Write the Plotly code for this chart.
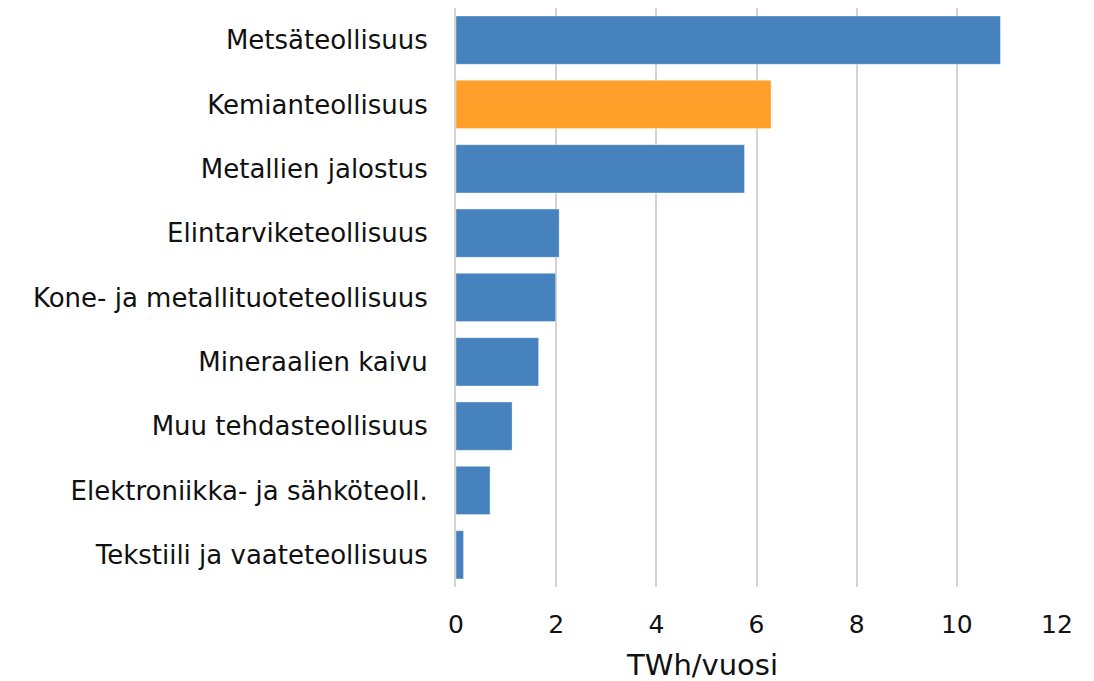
import plotly.graph_objects as go

categories = [
    "Metsäteollisuus",
    "Kemianteollisuus",
    "Metallien jalostus",
    "Elintarviketeollisuus",
    "Kone- ja metallituoteteollisuus",
    "Mineraalien kaivu",
    "Muu tehdasteollisuus",
    "Elektroniikka- ja sähköteoll.",
    "Tekstiili ja vaateteollisuus",
]
values = [10.87, 6.29, 5.76, 2.06, 1.99, 1.65, 1.12, 0.68, 0.15]
highlight = "Kemianteollisuus"
x_ticks = [0, 2, 4, 6, 8, 10, 12]
x_title = "TWh/vuosi"

BLUE = "#4682BD"
ORANGE = "#FF9F29"
colors = [ORANGE if c == highlight else BLUE for c in categories]

fig = go.Figure(
    go.Bar(
        x=values,
        y=categories,
        orientation="h",
        marker=dict(color=colors, line=dict(color="rgba(255,255,255,0.35)", width=1)),
    )
)

fig.update_layout(
    width=1086,
    height=673,
    margin=dict(l=448, r=37, t=0, b=94),
    paper_bgcolor="white",
    plot_bgcolor="white",
    bargap=0.25,
    showlegend=False,
    font=dict(family="DejaVu Sans", size=26, color="#111111"),
)
fig.update_xaxes(
    range=[0, 12],
    tickvals=x_ticks,
    showgrid=True,
    gridcolor="#D4D4D4",
    gridwidth=2,
    zeroline=False,
    showline=False,
    ticks="",
    ticklabelstandoff=20,
    tickfont=dict(size=25),
)
fig.update_yaxes(
    categoryorder="array",
    categoryarray=categories[::-1],
    showline=True,
    linecolor="#D4D4D4",
    linewidth=2,
    ticks="",
    ticklabelstandoff=21,
    tickfont=dict(size=26),
    showgrid=False,
)
fig.add_annotation(
    text=x_title,
    xref="paper",
    yref="paper",
    x=0.409,
    y=-0.135,
    xanchor="center",
    yanchor="middle",
    showarrow=False,
    font=dict(size=29, family="DejaVu Sans", color="#111111"),
)

fig.write_html("out.html")
